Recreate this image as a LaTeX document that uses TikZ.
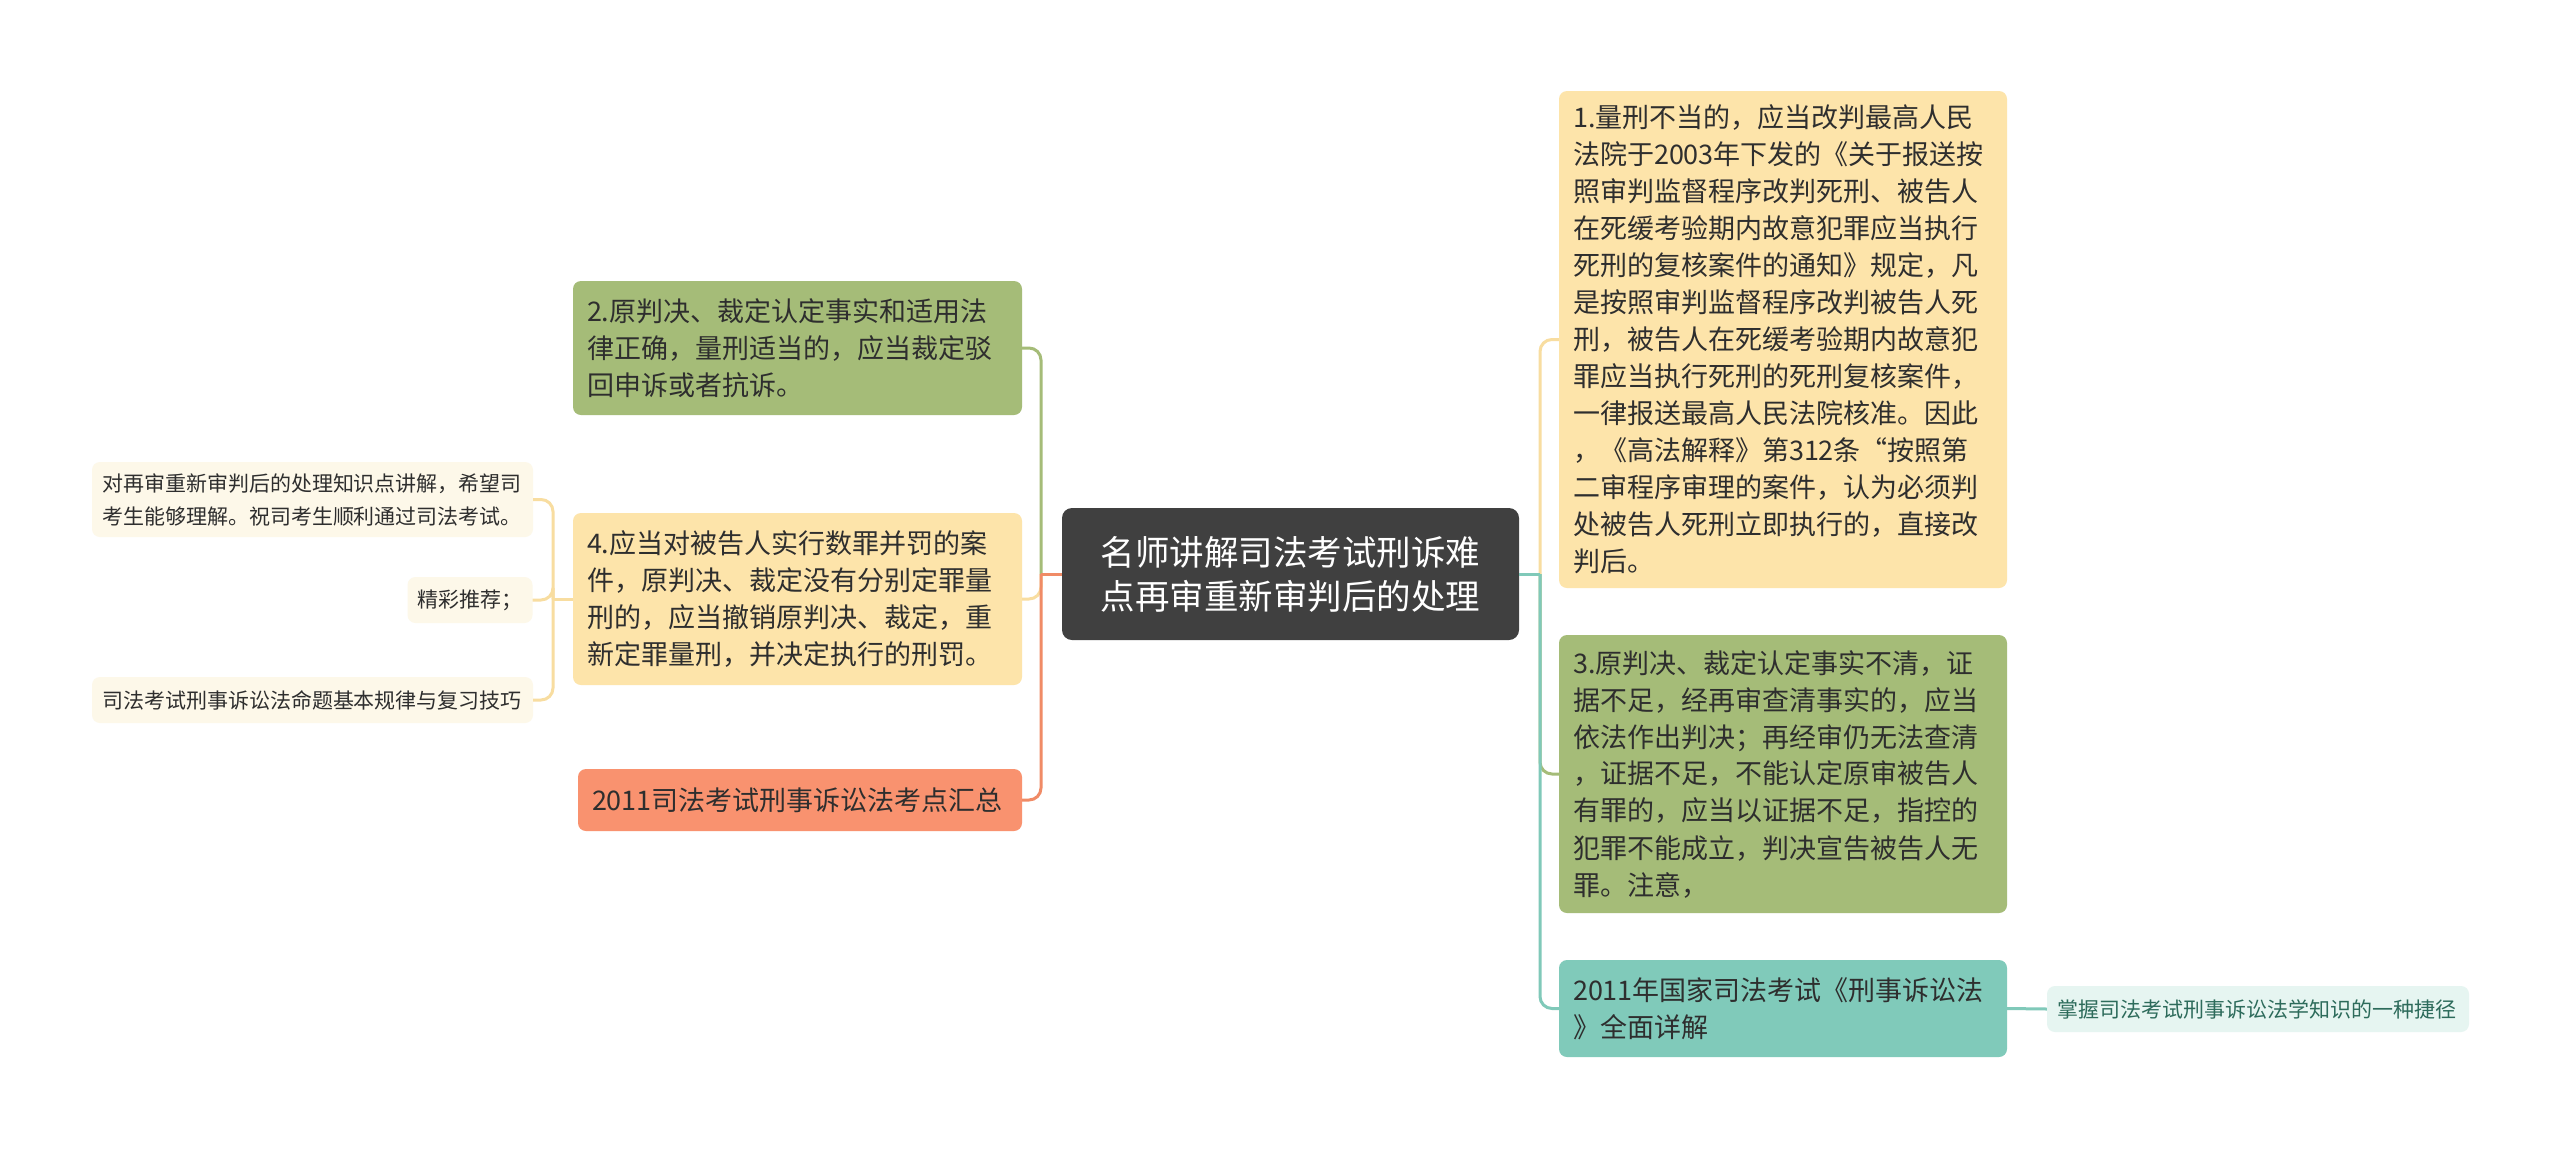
\documentclass[tikz,border=0pt]{standalone}
\usepackage{fontspec}
\setmainfont{Noto Sans CJK SC}
\definecolor{cCenter}{HTML}{404040}
\definecolor{cGreen}{HTML}{A5BC78}
\definecolor{cYellow}{HTML}{FDE4AA}
\definecolor{cSalmon}{HTML}{F9926F}
\definecolor{cTeal}{HTML}{80CABA}
\definecolor{cTealLight}{HTML}{E6F5F1}
\definecolor{cCream}{HTML}{FDF8E9}
\definecolor{lGreen}{HTML}{A5BC78}
\definecolor{lYellow}{HTML}{F8DDA0}
\definecolor{lSalmon}{HTML}{F08B66}
\definecolor{lTeal}{HTML}{80C9B9}
\definecolor{tDark}{HTML}{2E2E2E}
\definecolor{tTeal}{HTML}{2D6B5B}
\begin{document}
\begin{tikzpicture}[x=1pt,y=-1pt,
  box/.style={rounded corners=8pt, inner xsep=14pt, inner ysep=0pt, align=left, text=tDark,
    font=\fontsize{27}{37}\selectfont, anchor=center},
  leaf/.style={rounded corners=8pt, inner xsep=10pt, inner ysep=0pt, align=left, text=tDark,
    font=\fontsize{21}{33}\selectfont, fill=cCream, anchor=center},
  conn/.style={line width=3pt, rounded corners=12pt}
]
\useasboundingbox[fill=white] (0,0) rectangle (2560,1149);

% center
\node[rounded corners=10pt, fill=cCenter, text=white, align=center,
  font=\fontsize{34.5}{44}\selectfont, minimum width=457pt, minimum height=132pt, inner sep=0pt]
  (c) at (1290.5,574) {名师讲解司法考试刑诉难\\点再审重新审判后的处理};

% left side
\node[box, fill=cGreen, text width=421pt, minimum height=134pt] (n2) at (797.5,348)
 {2.原判决、裁定认定事实和适用法\\律正确，量刑适当的，应当裁定驳\\回申诉或者抗诉。};
\node[box, fill=cYellow, text width=421pt, minimum height=172pt] (n4) at (797.5,599)
 {4.应当对被告人实行数罪并罚的案\\件，原判决、裁定没有分别定罪量\\刑的，应当撤销原判决、裁定，重\\新定罪量刑，并决定执行的刑罚。};
\node[box, fill=cSalmon, text width=416pt, minimum height=62pt] (nS) at (800,800)
 {2011司法考试刑事诉讼法考点汇总};

\node[leaf, text width=421pt, minimum height=75pt] (la) at (312.5,499.5)
 {对再审重新审判后的处理知识点讲解，希望司\\考生能够理解。祝司考生顺利通过司法考试。};
\node[leaf, text width=105pt, minimum height=46pt] (lb) at (470,600) {精彩推荐；};
\node[leaf, text width=421pt, minimum height=46pt] (lc) at (312.5,700)
 {司法考试刑事诉讼法命题基本规律与复习技巧};

% right side
\node[box, fill=cYellow, text width=420pt, minimum height=497pt] (n1) at (1783,339.5)
 {1.量刑不当的，应当改判最高人民\\法院于2003年下发的《关于报送按\\照审判监督程序改判死刑、被告人\\在死缓考验期内故意犯罪应当执行\\死刑的复核案件的通知》规定，凡\\是按照审判监督程序改判被告人死\\刑，被告人在死缓考验期内故意犯\\罪应当执行死刑的死刑复核案件，\\一律报送最高人民法院核准。因此\\，《高法解释》第312条“按照第\\二审程序审理的案件，认为必须判\\处被告人死刑立即执行的，直接改\\判后。};
\node[box, fill=cGreen, text width=420pt, minimum height=278pt] (n3) at (1783,774)
 {3.原判决、裁定认定事实不清，证\\据不足，经再审查清事实的，应当\\依法作出判决；再经审仍无法查清\\，证据不足，不能认定原审被告人\\有罪的，应当以证据不足，指控的\\犯罪不能成立，判决宣告被告人无\\罪。注意，};
\node[box, fill=cTeal, text width=420pt, minimum height=97pt] (nT) at (1783,1008.5)
 {2011年国家司法考试《刑事诉讼法\\》全面详解};
\node[leaf, fill=cTealLight, text=tTeal, text width=402pt, minimum height=46pt] (nTc) at (2258,1009)
 {掌握司法考试刑事诉讼法学知识的一种捷径};

% junctions
\coordinate (jl) at (1041,574);
\coordinate (jr) at (1540,574);
\coordinate (j4) at (553,599);

% connectors left
\draw[conn, lYellow] (jl) |- (n4.east);
\draw[conn, lGreen] (jl) |- (n2.east);
\draw[conn, lSalmon] (jl) |- (nS.east);
\draw[conn, lSalmon] (c.west) -- (jl);

\draw[conn, lYellow] (n4.west) -- (j4);
\draw[conn, lYellow] (j4) |- (la.east);
\draw[conn, lYellow] (j4) |- (lb.east);
\draw[conn, lYellow] (j4) |- (lc.east);

% connectors right
\draw[conn, lYellow] (jr) |- (n1.west);
\draw[conn, lGreen] (jr) |- (n3.west);
\draw[conn, lTeal] (jr) |- (nT.west);
\draw[conn, lTeal] (c.east) -- (jr);
\draw[conn, lTeal] (nT.east) -- (nTc.west);
\end{tikzpicture}
\end{document}
